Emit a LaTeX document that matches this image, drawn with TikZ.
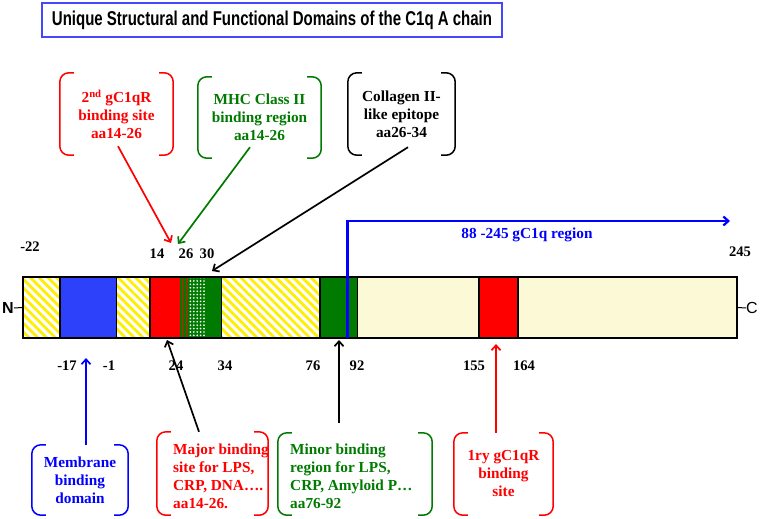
\documentclass[tikz,border=0pt]{standalone}
\usepackage{fontspec}
\setmainfont{Liberation Serif}
\newfontfamily\headfont{Liberation Sans}
\usepackage{graphicx}
\usepackage{tikz}
\usetikzlibrary{arrows.meta,patterns.meta}
\definecolor{domred}{RGB}{255,0,0}
\definecolor{domblue}{RGB}{45,65,250}
\definecolor{domgreen}{RGB}{0,122,0}
\definecolor{cream}{RGB}{252,250,214}
\definecolor{stripe}{RGB}{255,238,0}
\definecolor{frameblue}{RGB}{70,70,250}
\tikzstyle{note}=[inner sep=0pt,align=center,font=\fontsize{15.3}{18}\selectfont\bfseries]
\tikzstyle{num}=[inner sep=0pt,font=\fontsize{14.6}{16}\selectfont\bfseries]
\tikzstyle{ptr}=[line width=1.7pt,-{Straight Barb[length=5pt,width=9pt]}]
\tikzstyle{hatch}=[preaction={fill=white},pattern={Lines[angle=-45,distance=6.2pt,line width=2.8pt]},pattern color=stripe]
\tikzstyle{seg}=[draw=black,line width=1.5pt]
\newcommand{\bracebox}[2]{%
  \draw [#2,line width=1.5pt,rounded corners=9pt] ([xshift=14pt]#1.north west) -- (#1.north west) -- (#1.south west) -- ([xshift=14pt]#1.south west);
  \draw [#2,line width=1.5pt,rounded corners=9pt] ([xshift=-14pt]#1.north east) -- (#1.north east) -- (#1.south east) -- ([xshift=-14pt]#1.south east);}

\begin{document}
\begin{tikzpicture}[x=1pt,y=-1pt]
  \useasboundingbox (0,0) rectangle (760,519);
  \node (title) at (272,20) [draw=frameblue,line width=1.3pt,minimum width=460pt,minimum height=34pt,inner sep=0pt]
    {\headfont\bfseries\fontsize{20}{22}\selectfont\scalebox{0.75}[1]{Unique Structural and Functional Domains of the C1q A chain}};
  % the chain
  \fill [hatch] (23,277) rectangle (60,338);
  \filldraw [seg,fill=domblue] (60,277) rectangle (117,338);
  \fill [hatch] (117,277) rectangle (150,338);
  \fill [domred] (150,277) rectangle (180,338);
  \fill [domgreen] (180,277) rectangle (222,338);
  \draw [domred,line width=1.2pt] (182.5,277) -- (182.5,338) (186.5,277) -- (186.5,338);
  \fill [pattern={Dots[distance=3.4pt,radius=0.95pt]},pattern color=white] (189,277) rectangle (206,338);
  \draw [seg] (150,277) rectangle (222,338);
  \fill [hatch] (222,277) rectangle (320,338);
  \filldraw [seg,fill=domgreen] (320,277) rectangle (358,338);
  \fill [cream] (358,277) rectangle (737,338);
  \filldraw [seg,fill=domred] (479,277) rectangle (518,338);
  \node (bar) at (380,307.5) [draw,line width=1.4pt,minimum width=714pt,minimum height=61pt,inner sep=0pt] {};
  \node (nterm) at (8,308) [inner sep=0pt,font=\headfont\bfseries\fontsize{16}{16}\selectfont] {N};
  \node (cterm) at (752,308) [inner sep=0pt,font=\headfont\fontsize{16}{16}\selectfont] {C};
  \draw [line width=1pt] (nterm.east) -- (bar.west);
  \draw [line width=1pt] (bar.east) -- (cterm.west);
  % residue numbers
  \node (m22) at (30,247) [num] {-22};
  \node (r14) at (157,254) [num] {14};
  \node (r26) at (186,254) [num] {26};
  \node (r30) at (207,254) [num] {30};
  \node (r245) at (740,252) [num] {245};
  \node (m17) at (67,366) [num] {-17};
  \node (m1) at (109,366) [num] {-1};
  \node (r24) at (176,366) [num] {24};
  \node (r34) at (225,366) [num] {34};
  \node (r76) at (313,366) [num] {76};
  \node (r92) at (357,366) [num] {92};
  \node (r155) at (474,366) [num] {155};
  \node (r164) at (524,366) [num] {164};
  % gC1q region
  \coordinate (gstart) at (347.5,338);
  \coordinate (gend) at (730,221);
  \draw [blue,line width=2.2pt,-{Straight Barb[length=5pt,width=9pt]}] (gstart) |- (gend);
  \node (gregion) at (527,235) [note,text=blue] {88 -245 gC1q region};
  % upper notes
  \node (second) at (116.5,114) [note,text=domred,minimum width=113pt,minimum height=82pt] {2\textsuperscript{nd} gC1qR\\binding site\\aa14-26};
  \node (mhc) at (259.5,117.5) [note,text=domgreen,minimum width=123pt,minimum height=81pt] {MHC Class II\\binding region\\aa14-26};
  \node (collagen) at (401.5,114) [note,minimum width=107pt,minimum height=82pt] {Collagen II-\\like epitope\\aa26-34};
  \bracebox{second}{domred}
  \bracebox{mhc}{domgreen}
  \bracebox{collagen}{black}
  % lower notes
  \node (membrane) at (80,480) [note,text=blue,minimum width=96pt,minimum height=70pt] {Membrane\\binding\\domain};
  \node (major) at (212.5,473.5) [minimum width=111pt,minimum height=83pt,inner sep=0pt] {};
  \node (majortext) at (173,476) [note,anchor=west,align=left,text=domred] {Major binding\\site for LPS,\\CRP, DNA….\\aa14-26.};
  \node (minor) at (355,474) [minimum width=154pt,minimum height=82pt,inner sep=0pt] {};
  \node (minortext) at (290,476) [note,anchor=west,align=left,text=domgreen] {Minor binding\\region for LPS,\\CRP, Amyloid P…\\aa76-92};
  \node (primary) at (503.5,474) [note,text=domred,minimum width=99pt,minimum height=82pt] {1ry gC1qR\\binding\\site};
  \bracebox{membrane}{blue}
  \bracebox{major}{domred}
  \bracebox{minor}{domgreen}
  \bracebox{primary}{domred}
  % pointers
  \coordinate (t14) at (171,243);
  \coordinate (t26) at (178,244);
  \coordinate (t30) at (212,271);
  \coordinate (tmem) at (86,358);
  \coordinate (t24) at (167,340);
  \coordinate (t76) at (339,340);
  \coordinate (t155) at (496,344);
  \draw [ptr,domred] ([xshift=1.5pt,yshift=9pt]second.south) -- (t14);
  \draw [ptr,domgreen] ([xshift=-9.5pt,yshift=11pt]mhc.south) -- (t26);
  \draw [ptr] ([xshift=6.5pt,yshift=8pt]collagen.south) -- (t30);
  \draw [ptr,blue] ([xshift=6pt]membrane.north) -- (tmem);
  \draw [ptr] ([xshift=-13.5pt]major.north) -- (t24);
  \draw [ptr] ([xshift=-16pt,yshift=10pt]minor.north) -- (t76);
  \draw [ptr,domred] ([xshift=-7.5pt]primary.north) -- (t155);
\end{tikzpicture}
\end{document}
